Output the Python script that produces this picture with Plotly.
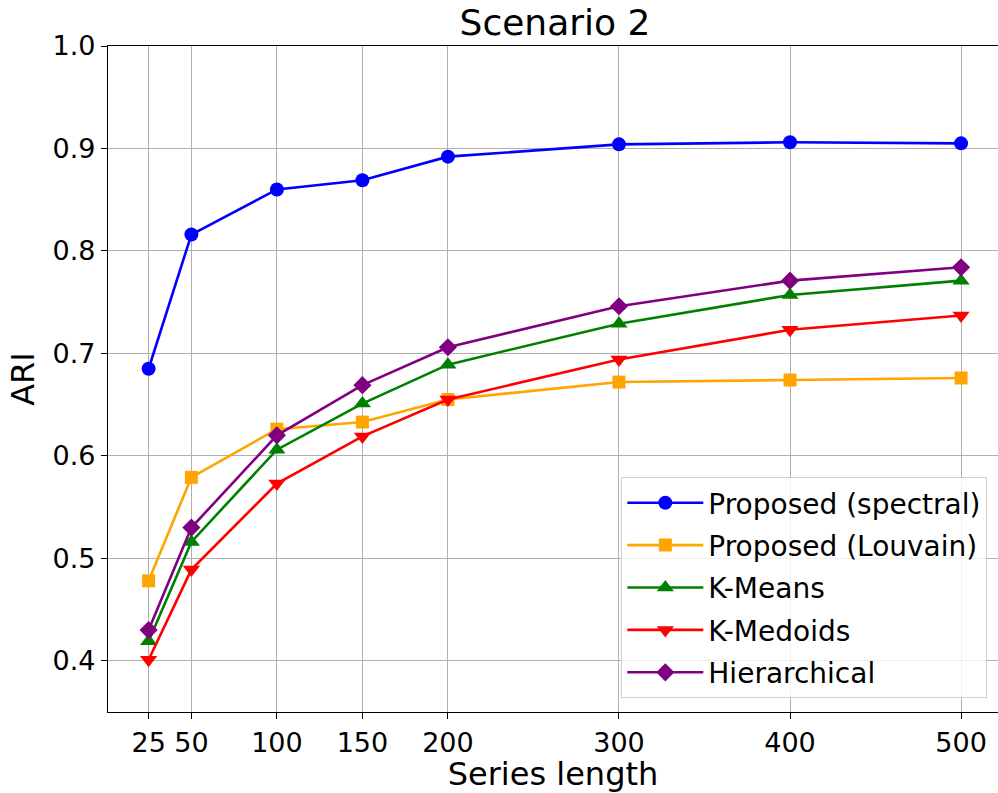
import plotly.graph_objects as go

# Series lengths and ARI scores for each clustering method
series_length = [25, 50, 100, 150, 200, 300, 400, 500]
ari_spectral = [0.685, 0.816, 0.860, 0.869, 0.892, 0.904, 0.906, 0.905]
ari_louvain = [0.478, 0.579, 0.626, 0.633, 0.655, 0.672, 0.674, 0.676]
ari_kmeans = [0.419, 0.516, 0.606, 0.651, 0.689, 0.729, 0.757, 0.771]
ari_kmedoids = [0.401, 0.489, 0.573, 0.619, 0.655, 0.694, 0.723, 0.737]
ari_hier = [0.430, 0.530, 0.620, 0.669, 0.706, 0.746, 0.771, 0.784]

x_ticks = [25, 50, 100, 150, 200, 300, 400, 500]
y_ticks = [0.4, 0.5, 0.6, 0.7, 0.8, 0.9, 1.0]

series = [
    ("Proposed (spectral)", ari_spectral, "#0000ff", "circle", 14),
    ("Proposed (Louvain)", ari_louvain, "#ffa500", "square", 13),
    ("K-Means", ari_kmeans, "#008000", "triangle-up", 15),
    ("K-Medoids", ari_kmedoids, "#ff0000", "triangle-down", 15),
    ("Hierarchical", ari_hier, "#800080", "diamond", 14),
]

fig = go.Figure()
for name, vals, color, symbol, size in series:
    fig.add_trace(go.Scatter(
        x=series_length, y=vals, name=name, legendgroup=name,
        mode="lines+markers",
        line=dict(color=color, width=2.6),
        marker=dict(color=color, symbol=symbol, size=size, line=dict(width=0)),
    ))

font = "DejaVu Sans, Arial, sans-serif"
fig.update_layout(
    width=998, height=793,
    margin=dict(l=108, r=0, t=46, b=81),
    paper_bgcolor="white", plot_bgcolor="white",
    font=dict(family=font, color="black", size=28),
    title=dict(text="Scenario 2", x=(555 / 998), xanchor="center",
               y=1 - 22 / 793, yanchor="middle",
               font=dict(size=36, family=font)),
    legend=dict(
        x=0.988, xanchor="right", y=0.021, yanchor="bottom",
        bgcolor="rgba(255,255,255,0.8)", bordercolor="#d0d0d0", borderwidth=1,
        font=dict(size=28, family=font), tracegroupgap=3, itemwidth=76,
    ),
    showlegend=True,
)
fig.update_xaxes(
    range=[1.25, 521.6], tickvals=x_ticks, ticktext=[str(v) for v in x_ticks],
    showgrid=True, gridcolor="#b0b0b0", gridwidth=1,
    showline=True, linecolor="black", linewidth=1.2, mirror=True,
    ticks="outside", ticklen=6, tickcolor="black",
    tickfont=dict(size=27), zeroline=False,
    title=dict(text="Series length", font=dict(size=32), standoff=6),
)
fig.update_yaxes(
    range=[0.35, 1.0], tickvals=y_ticks, ticktext=["%.1f" % v for v in y_ticks],
    showgrid=True, gridcolor="#b0b0b0", gridwidth=1,
    showline=True, linecolor="black", linewidth=1.2,
    ticks="outside", ticklen=6, tickcolor="black",
    tickfont=dict(size=27), zeroline=False,
    title=dict(text="ARI", font=dict(size=32), standoff=8),
)

fig.write_html("out.html")
